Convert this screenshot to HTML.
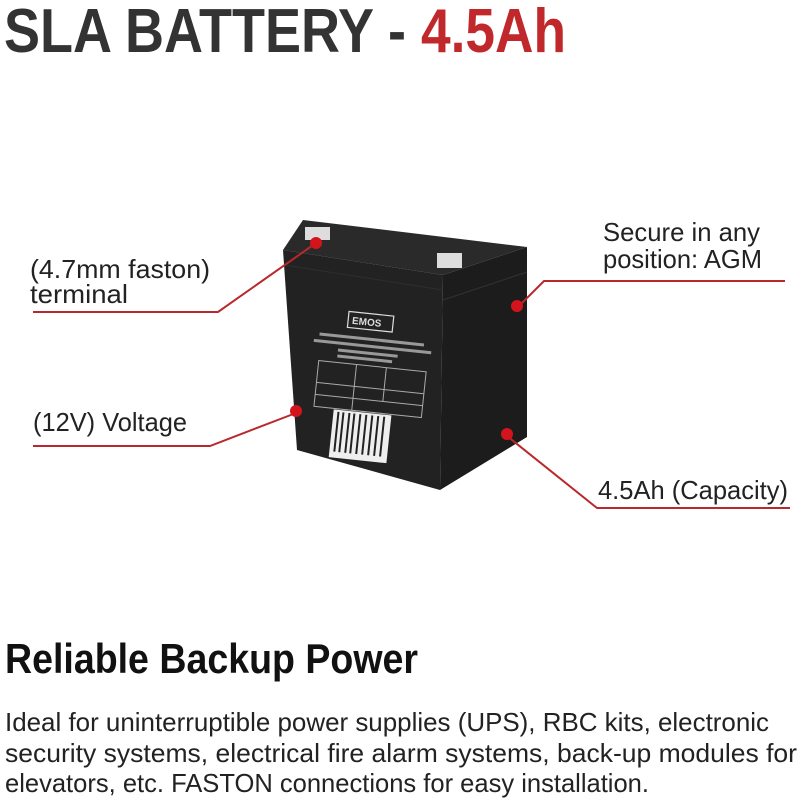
<!DOCTYPE html>
<html><head><meta charset="utf-8"><style>
html,body{margin:0;padding:0;background:#fff;}
svg{display:block;}
text{font-family:"Liberation Sans",sans-serif;}
</style></head><body>
<svg width="800" height="800" viewBox="0 0 800 800" xmlns="http://www.w3.org/2000/svg">
<rect width="800" height="800" fill="#fff"/>
<text x="4" y="52" font-size="62" font-weight="bold" fill="#333" textLength="402" lengthAdjust="spacingAndGlyphs">SLA BATTERY -</text>
<text x="421" y="52" font-size="62" font-weight="bold" fill="#c1282b" textLength="145" lengthAdjust="spacingAndGlyphs">4.5Ah</text>

<polygon points="283,250 303,220 527,247 443,275" fill="#2a2a2a"/>
<polygon points="443,275 527,247 527,437 440,490" fill="#1c1c1c"/>
<polygon points="283,250 443,275 440,490 297,450" fill="#222"/>
<line x1="443" y1="300" x2="527" y2="272" stroke="#333" stroke-width="1"/>
<line x1="284" y1="265" x2="443" y2="290" stroke="#2e2e2e" stroke-width="1"/>
<rect x="305" y="227" width="25" height="13" fill="#ddd"/>
<rect x="437" y="253" width="25" height="15" fill="#ddd"/>
<g transform="rotate(6 370 380)">
<rect x="342" y="314" width="45" height="16" fill="none" stroke="#ddd" stroke-width="1.2"/>
<text x="346" y="326" font-size="10" font-weight="bold" fill="#ddd">EMOS</text>
<rect x="315" y="338" width="105" height="3" fill="#999"/>
<rect x="310" y="345" width="118" height="3" fill="#999"/>
<rect x="335" y="352" width="60" height="3" fill="#999"/>
<rect x="335" y="358" width="55" height="3" fill="#999"/>
<rect x="317" y="366" width="108" height="46" fill="none" stroke="#aaa" stroke-width="1"/>
<line x1="355" y1="366" x2="355" y2="412" stroke="#aaa"/>
<line x1="385" y1="366" x2="385" y2="400" stroke="#aaa"/>
<line x1="317" y1="388" x2="425" y2="388" stroke="#aaa"/>
<line x1="317" y1="400" x2="425" y2="400" stroke="#aaa"/>
<rect x="337" y="413" width="58" height="48" fill="#eee"/>
<g stroke="#222" stroke-width="2">
<line x1="342" y1="415" x2="342" y2="455"/><line x1="347" y1="415" x2="347" y2="455"/>
<line x1="353" y1="415" x2="353" y2="455"/><line x1="358" y1="415" x2="358" y2="455"/>
<line x1="364" y1="415" x2="364" y2="455"/><line x1="370" y1="415" x2="370" y2="455"/>
<line x1="376" y1="415" x2="376" y2="455"/><line x1="382" y1="415" x2="382" y2="455"/>
<line x1="388" y1="415" x2="388" y2="455"/>
</g>
</g>

<g stroke="#b8282c" stroke-width="2" fill="none">
<polyline points="33,312 218,312 316,243"/>
<polyline points="517,308 544,281 785,281"/>
<polyline points="33,446 210,446 296,413"/>
<polyline points="507,436 597,508 790,508"/>
</g>
<g fill="#d4141c">
<circle cx="316" cy="243" r="6"/>
<circle cx="517" cy="306" r="6"/>
<circle cx="296" cy="411" r="6"/>
<circle cx="507" cy="434" r="6"/>
</g>

<g font-size="26" fill="#222">
<text x="30" y="278" textLength="180" lengthAdjust="spacingAndGlyphs">(4.7mm faston)</text>
<text x="30" y="303" textLength="98" lengthAdjust="spacingAndGlyphs">terminal</text>
<text x="603" y="241" textLength="157" lengthAdjust="spacingAndGlyphs">Secure in any</text>
<text x="603" y="268" textLength="159" lengthAdjust="spacingAndGlyphs">position: AGM</text>
<text x="33" y="431" textLength="154" lengthAdjust="spacingAndGlyphs">(12V) Voltage</text>
<text x="598" y="499" textLength="190" lengthAdjust="spacingAndGlyphs">4.5Ah (Capacity)</text>
</g>

<text x="5" y="673" font-size="42" font-weight="bold" fill="#111" textLength="413" lengthAdjust="spacingAndGlyphs">Reliable Backup Power</text>
<g font-size="26" fill="#222">
<text x="5" y="731" textLength="764" lengthAdjust="spacingAndGlyphs">Ideal for uninterruptible power supplies (UPS), RBC kits, electronic</text>
<text x="5" y="762" textLength="792" lengthAdjust="spacingAndGlyphs">security systems, electrical fire alarm systems, back-up modules for</text>
<text x="5" y="792" textLength="644" lengthAdjust="spacingAndGlyphs">elevators, etc. FASTON connections for easy installation.</text>
</g>
</svg>
</body></html>
